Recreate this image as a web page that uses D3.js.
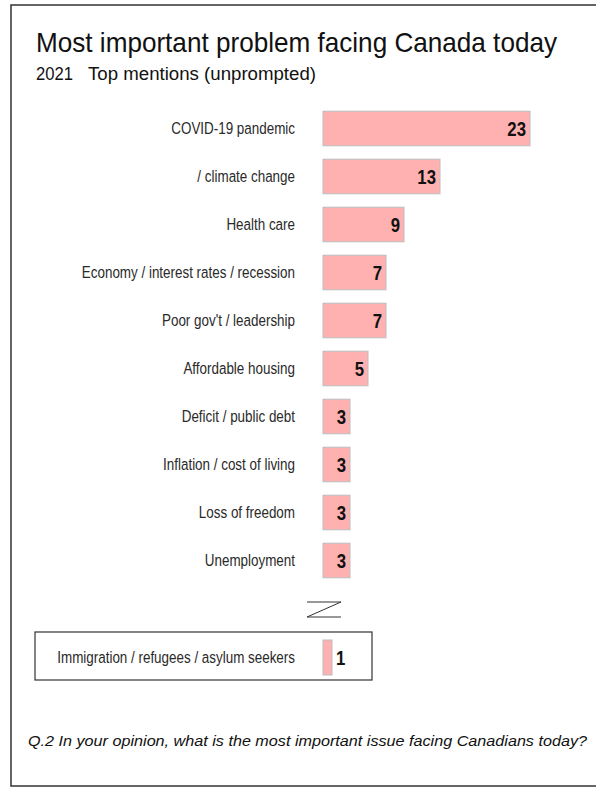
<!DOCTYPE html>
<html>
<head>
<meta charset="utf-8">
<script src="https://cdn.jsdelivr.net/npm/d3@7"></script>
<style>
  html, body { margin: 0; padding: 0; background: #fff; }
  svg { display: block; }
</style>
</head>
<body>
<svg id="chart" width="596" height="789"></svg>
<script>
// Top mentions, 2021 (percent)
const categories = [
  "COVID-19 pandemic",
  "/ climate change",
  "Health care",
  "Economy / interest rates / recession",
  "Poor gov't / leadership",
  "Affordable housing",
  "Deficit / public debt",
  "Inflation / cost of living",
  "Loss of freedom",
  "Unemployment"
];
const values = [23, 13, 9, 7, 7, 5, 3, 3, 3, 3];

const highlightCategory = ["Immigration / refugees / asylum seekers"];
const highlightValue = [1];

const titleText = "Most important problem facing Canada today";
const yearText = "2021";
const subtitleText = "Top mentions (unprompted)";
const noteText = "Q.2  In your opinion, what is the most important issue facing Canadians today?";

const svg = d3.select("#chart");
const W = 596, H = 789;

const baseFont = "'Liberation Sans', Arial, sans-serif";
const barFill = "#ffb1b1";
const barStroke = "#bdbdbd";

// narrow-looking category labels: regular face squeezed horizontally
const labelSize = 17;
const labelSqueeze = 0.79;
const valueSize = 19.5;
const valueSqueeze = 0.86;

// outer frame (right edge runs off the canvas)
svg.append("rect")
  .attr("x", 11).attr("y", 5)
  .attr("width", W + 10).attr("height", 781)
  .attr("fill", "none").attr("stroke", "#333").attr("stroke-width", 1.5);

function fitText(sel, width) {
  sel.attr("textLength", width).attr("lengthAdjust", "spacingAndGlyphs");
}

// headings
svg.append("text")
  .attr("x", 36).attr("y", 52)
  .attr("font-family", baseFont).attr("font-size", 28).attr("fill", "#111")
  .text(titleText)
  .call(fitText, 521);

svg.append("text")
  .attr("x", 36).attr("y", 80)
  .attr("font-family", baseFont).attr("font-size", 18).attr("fill", "#111")
  .text(yearText)
  .call(fitText, 37);

svg.append("text")
  .attr("x", 88).attr("y", 80)
  .attr("font-family", baseFont).attr("font-size", 18).attr("fill", "#111")
  .text(subtitleText)
  .call(fitText, 228);

// scales
const x = d3.scaleLinear().domain([0, 23]).range([323, 530]);
const y = d3.scaleBand()
  .domain(categories)
  .range([104.5, 584.5])
  .paddingInner(0.28)
  .paddingOuter(0.14);

const labelRight = 295;

function drawRows(g, data, band, valueInside) {
  const rows = g.selectAll("g")
    .data(data)
    .join("g");

  rows.append("rect")
    .attr("x", x(0))
    .attr("y", d => band(d.cat))
    .attr("width", d => x(d.val) - x(0))
    .attr("height", band.bandwidth())
    .attr("fill", barFill)
    .attr("stroke", barStroke)
    .attr("stroke-width", 1);

  rows.append("text")
    .attr("transform", d => `translate(${labelRight},${band(d.cat) + band.bandwidth() / 2}) scale(${labelSqueeze},1)`)
    .attr("dy", "0.35em")
    .attr("text-anchor", "end")
    .attr("font-family", baseFont)
    .attr("font-size", labelSize)
    .attr("fill", "#2a2a2a")
    .text(d => d.cat);

  rows.append("text")
    .attr("transform", d => {
      const tx = valueInside ? x(d.val) - 4 : x(d.val) + 4;
      return `translate(${tx},${band(d.cat) + band.bandwidth() / 2}) scale(${valueSqueeze},1)`;
    })
    .attr("dy", "0.36em")
    .attr("text-anchor", valueInside ? "end" : "start")
    .attr("font-family", baseFont)
    .attr("font-weight", "bold")
    .attr("font-size", valueSize)
    .attr("fill", "#111")
    .text(d => d.val);
}

drawRows(svg.append("g"), categories.map((c, i) => ({ cat: c, val: values[i] })), y, true);

// axis break mark
const zx0 = 307, zx1 = 341, zy0 = 602, zy1 = 617;
svg.append("path")
  .attr("d", d3.line()([[zx0, zy0], [zx1, zy0], [zx0, zy1], [zx1, zy1]]))
  .attr("fill", "none").attr("stroke", "#333").attr("stroke-width", 1);

// boxed row
svg.append("rect")
  .attr("x", 35).attr("y", 632).attr("width", 337).attr("height", 48)
  .attr("fill", "none").attr("stroke", "#333").attr("stroke-width", 1.2);

const yh = d3.scaleBand().domain(highlightCategory).range([640, 675]);
drawRows(svg.append("g"), highlightCategory.map((c, i) => ({ cat: c, val: highlightValue[i] })), yh, false);

// question note
svg.append("text")
  .attr("x", 28).attr("y", 746)
  .attr("font-family", baseFont).attr("font-style", "italic")
  .attr("font-size", 14.5).attr("fill", "#111")
  .text(noteText)
  .call(fitText, 559);
</script>
</body>
</html>
